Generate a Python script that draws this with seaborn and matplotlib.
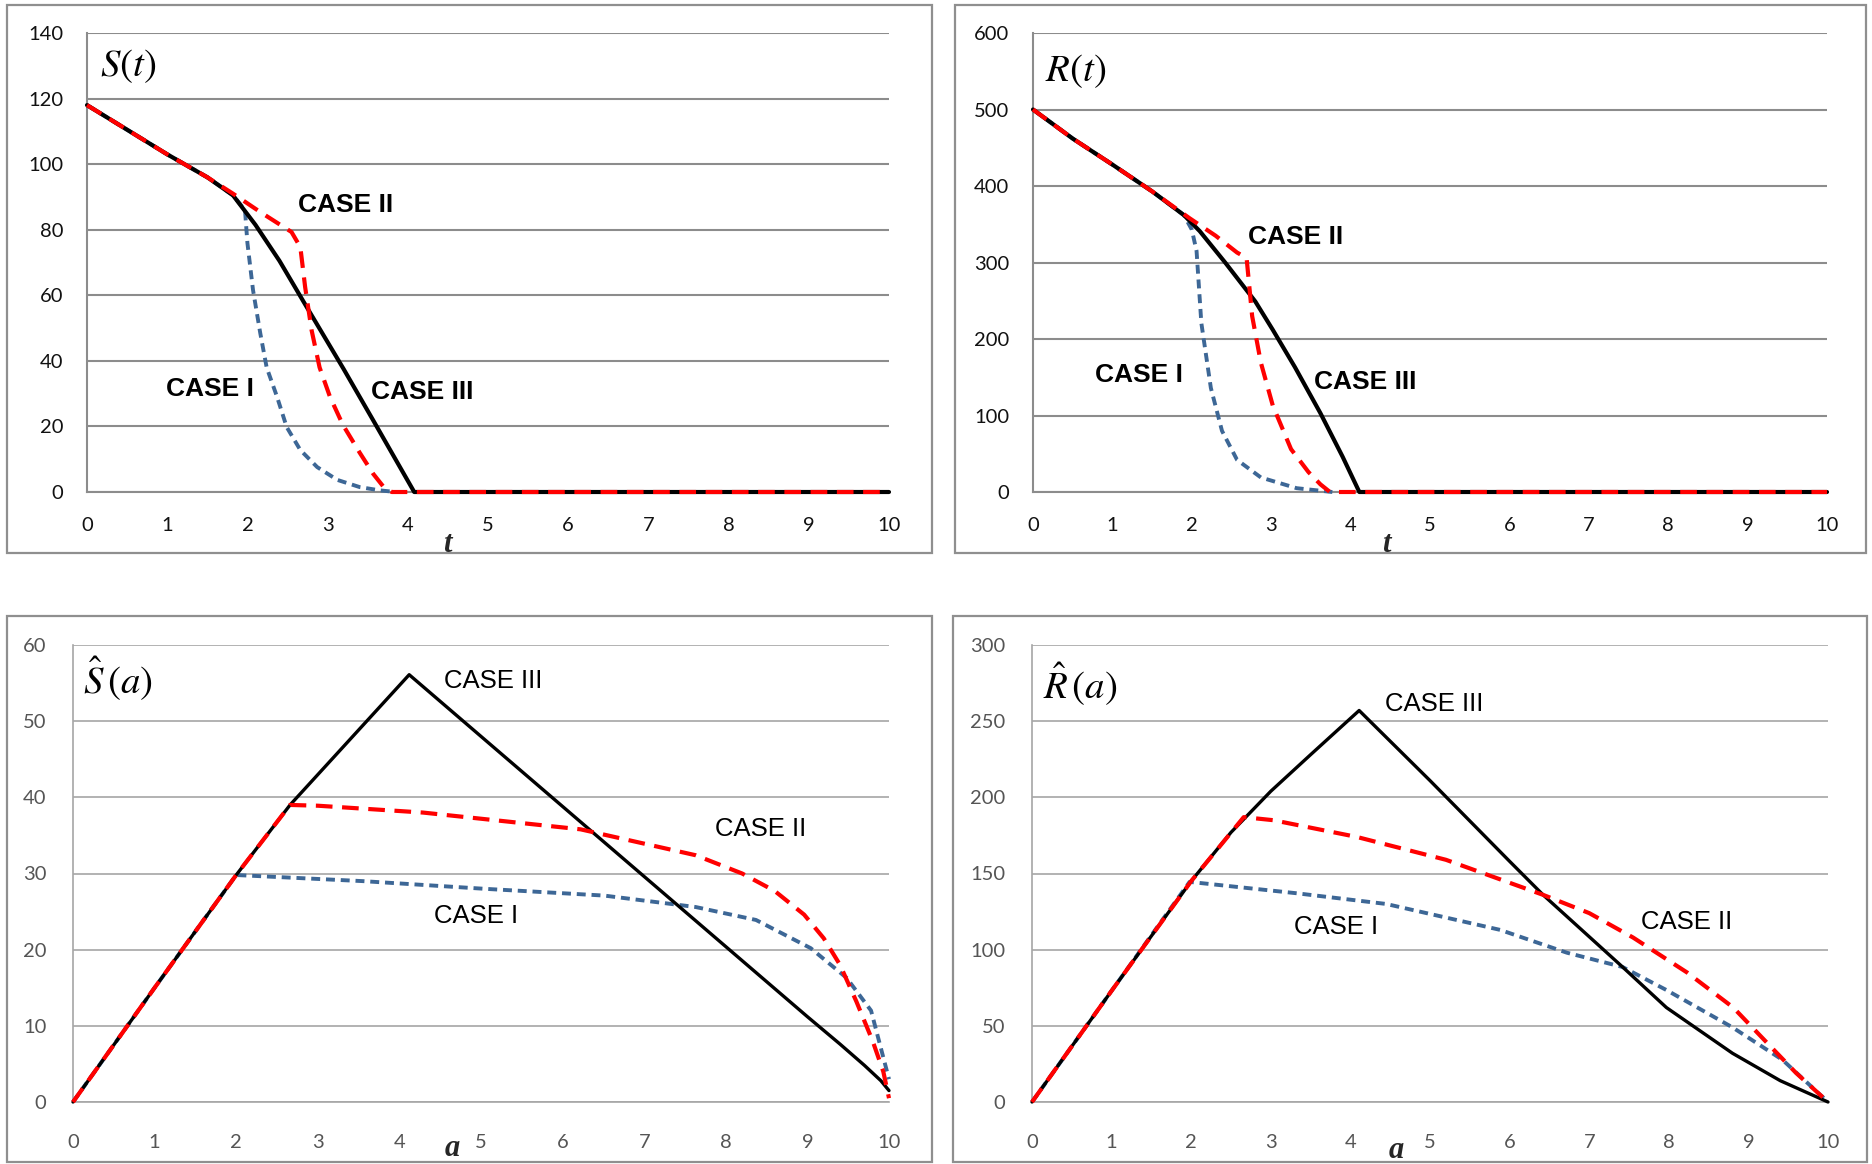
import numpy as np
import pandas as pd
import matplotlib
matplotlib.use("Agg")
import matplotlib.pyplot as plt
import seaborn as sns
from matplotlib.patches import Rectangle

# ---- S(t) ----
st_case3_t = [0, 0.5, 1.0, 1.5, 1.82, 2.1, 2.4, 2.74, 3.2, 3.57, 4.08, 10]
st_case3_y = [118, 110.5, 103, 96, 90.5, 81.5, 70.5, 56.4, 37.5, 21.8, 0, 0]
st_case2_t = [0, 0.5, 1.0, 1.5, 1.82, 2.16, 2.55, 2.66, 2.72, 2.8, 2.9, 3.03, 3.19, 3.4, 3.57, 3.7, 3.8, 10]
st_case2_y = [118, 110.5, 103, 96, 91, 85.4, 79.3, 74.7, 62.5, 49.4, 38, 29, 20.5, 12, 5.5, 1.5, 0, 0]
st_case1_t = [0, 0.5, 1.0, 1.5, 1.82, 1.97, 2.0, 2.07, 2.16, 2.24, 2.37, 2.49, 2.66, 2.87, 3.12, 3.4, 3.65, 3.85]
st_case1_y = [118, 110.5, 103, 96, 90.5, 86, 76, 61.6, 48.5, 38, 29, 19.8, 12.8, 7.6, 3.7, 1.5, 0.5, 0]

# ---- R(t) ----
rt_case3_t = [0, 0.5, 1.0, 1.5, 1.9, 2.1, 2.42, 2.8, 3.02, 3.3, 3.62, 3.9, 4.11, 10]
rt_case3_y = [500, 462, 428, 393, 362, 341, 300, 249, 212, 163, 103, 46, 0, 0]
rt_case2_t = [0, 0.5, 1.0, 1.5, 1.97, 2.3, 2.57, 2.69, 2.76, 2.87, 3.02, 3.25, 3.47, 3.62, 3.74, 10]
rt_case2_y = [500, 462, 428, 393, 358, 335, 313, 306, 230, 169, 113, 56, 26, 10, 0, 0]
rt_case1_t = [0, 0.5, 1.0, 1.5, 1.9, 2.0, 2.06, 2.12, 2.24, 2.38, 2.57, 2.87, 3.32, 3.77]
rt_case1_y = [500, 462, 428, 393, 362, 343, 315, 221, 136, 80, 42, 19, 5, 0]

# ---- S^(a) ----
sa_case3_a = [0, 1.0, 2.0, 2.66, 4.12, 5.0, 6.0, 7.0, 8.0, 9.0, 9.4, 9.7, 9.9, 10]
sa_case3_y = [0, 15, 29.8, 39, 56.1, 48, 38.8, 29.6, 20.4, 11.2, 7.6, 4.8, 2.8, 1.5]
sa_case2_a = [0, 1.0, 2.0, 2.66, 3.0, 4.29, 6.22, 7.63, 8.2, 8.6, 8.96, 9.2, 9.4, 9.6, 9.8, 9.93, 10]
sa_case2_y = [0, 15, 29.8, 39, 38.9, 38, 35.8, 32.4, 30, 27.7, 24.6, 21.5, 18, 13.2, 8, 4, 0.5]
sa_case1_a = [0, 1.0, 2.0, 3.55, 5.03, 6.51, 7.63, 8.37, 9.04, 9.48, 9.78, 10]
sa_case1_y = [0, 15, 29.8, 29, 28, 27.1, 25.6, 23.9, 20.2, 16.3, 12, 3]

# ---- R^(a) ----
ra_case3_a = [0, 1, 2, 2.5, 3, 3.5, 4.11, 5, 6, 6.42, 7.42, 7.97, 8.8, 9.4, 10]
ra_case3_y = [0, 73, 145, 177, 204, 228, 257, 211, 158, 136, 88.6, 62, 32, 14, 0]
ra_case2_a = [0, 1, 2, 2.66, 3.03, 4.08, 5.2, 6.42, 7.0, 7.55, 8.23, 8.81, 9.25, 9.6, 10]
ra_case2_y = [0, 73, 145, 187, 185, 174, 159, 136, 124, 108, 85, 62, 38, 19, 0]
ra_case1_a = [0, 1, 1.98, 3.33, 4.45, 5.88, 6.72, 7.42, 7.97, 8.8, 9.43, 10]
ra_case1_y = [0, 73, 144.5, 137, 130, 113, 98, 88.6, 73.5, 49, 27.6, 0]

sns.set_style("white")
plt.rcParams['font.family'] = ['Lato', 'DejaVu Sans']
plt.rcParams['mathtext.fontset'] = 'stix'

W, H = 1872, 1164
fig = plt.figure(figsize=(W / 100, H / 100), dpi=100)


def frac(x0, y0, x1, y1):
    return [x0 / W, 1 - y1 / H, (x1 - x0) / W, (y1 - y0) / H]


BLUE = '#3d6796'
RED = '#ff0000'
GRID = '#8c8c8c'


def draw_panel(axrect, boxrect, series, ymax, ystep, title, title_xy, labels, top, xlab, xlab_xy):
    # chart frame like an Excel chart area
    fig.patches.append(Rectangle((boxrect[0] / W, 1 - boxrect[3] / H),
                                 (boxrect[2] - boxrect[0]) / W, (boxrect[3] - boxrect[1]) / H,
                                 transform=fig.transFigure, fill=False,
                                 edgecolor='#8f8f8f', lw=1.6, zorder=0))
    ax = fig.add_axes(frac(*axrect))
    lw_black = 3.0 if top else 2.4
    styles = [(BLUE, 2.8, (0, (2.3, 1.5))), ('black', lw_black, '-'), (RED, 3.0, (0, (4.0, 2.3)))]
    for i, ((x, y), (c, lw, ls)) in enumerate(zip(series, styles)):
        df = pd.DataFrame({'x': x, 'y': y})
        sns.lineplot(data=df, x='x', y='y', ax=ax, color=c, linewidth=lw,
                     linestyle=ls, estimator=None, sort=False, clip_on=False,
                     zorder=3 + i)
    ax.set_xlim(0, 10)
    ax.set_ylim(0, ymax)
    ax.set_xticks(range(11))
    ax.set_yticks(np.arange(0, ymax + 1, ystep))
    ax.set_xlabel('')
    ax.set_ylabel('')
    gcol = GRID if top else '#a6a6a6'
    ax.yaxis.grid(True, color=gcol, lw=1.5 if top else 1.2)
    ax.set_axisbelow(True)
    for s in ['top', 'right']:
        ax.spines[s].set_visible(False)
    for s in ['left', 'bottom']:
        ax.spines[s].set_color(gcol)
        ax.spines[s].set_linewidth(1.5 if top else 1.2)
        ax.spines[s].set_zorder(1)
    tcol = '#111111' if top else '#555555'
    ax.tick_params(axis='x', direction='out', length=6, width=1.2,
                   color=GRID, pad=12 if top else 17, labelsize=14.5, labelcolor=tcol)
    ax.tick_params(axis='y', direction='out', length=8, width=1.2,
                   color=GRID, pad=9 if top else 11, labelsize=14.5, labelcolor=tcol)
    ax.text(title_xy[0], title_xy[1], title, fontsize=28, ha='center', va='center',
            color='black')
    for txt, tx, ty in labels:
        ax.text(tx, ty, txt, fontsize=19 if top else 18.5, ha='center', va='center',
                family='Liberation Sans', fontweight='bold' if top else 'normal',
                color='black')
    fig.text(xlab_xy[0] / W, 1 - xlab_xy[1] / H, xlab, fontsize=22, ha='center', va='center',
             family='Liberation Serif', style='italic', fontweight='bold')
    return ax


draw_panel((87, 33, 889, 492), (7, 5, 932, 553),
           [(st_case1_t, st_case1_y), (st_case3_t, st_case3_y), (st_case2_t, st_case2_y)],
           140, 20, r'$S(t)$', (0.51, 130),
           [('CASE II', 3.23, 87.5), ('CASE I', 1.53, 31.4), ('CASE III', 4.18, 30.5)],
           True, 't', (447, 544))

draw_panel((1033, 33, 1827, 492), (955, 5, 1866, 553),
           [(rt_case1_t, rt_case1_y), (rt_case3_t, rt_case3_y), (rt_case2_t, rt_case2_y)],
           600, 100, r'$R(t)$', (0.54, 550),
           [('CASE II', 3.31, 333), ('CASE I', 1.34, 153), ('CASE III', 4.19, 144)],
           True, 't', (1386, 544))

draw_panel((73, 645, 889, 1102), (7, 616, 932, 1162),
           [(sa_case1_a, sa_case1_y), (sa_case3_a, sa_case3_y), (sa_case2_a, sa_case2_y)],
           60, 10, r'$\hat{S}\,(a)$', (0.55, 55.5),
           [('CASE III', 5.15, 55.3), ('CASE II', 8.43, 35.8), ('CASE I', 4.94, 24.4)],
           False, 'a', (452, 1148))

draw_panel((1032, 645, 1828, 1102), (953, 616, 1867, 1162),
           [(ra_case1_a, ra_case1_y), (ra_case3_a, ra_case3_y), (ra_case2_a, ra_case2_y)],
           300, 50, r'$\hat{R}\,(a)$', (0.6, 274),
           [('CASE III', 5.05, 261), ('CASE II', 8.22, 118), ('CASE I', 3.82, 115)],
           False, 'a', (1396, 1150))

fig.savefig('out.png', dpi=100, facecolor='white')
